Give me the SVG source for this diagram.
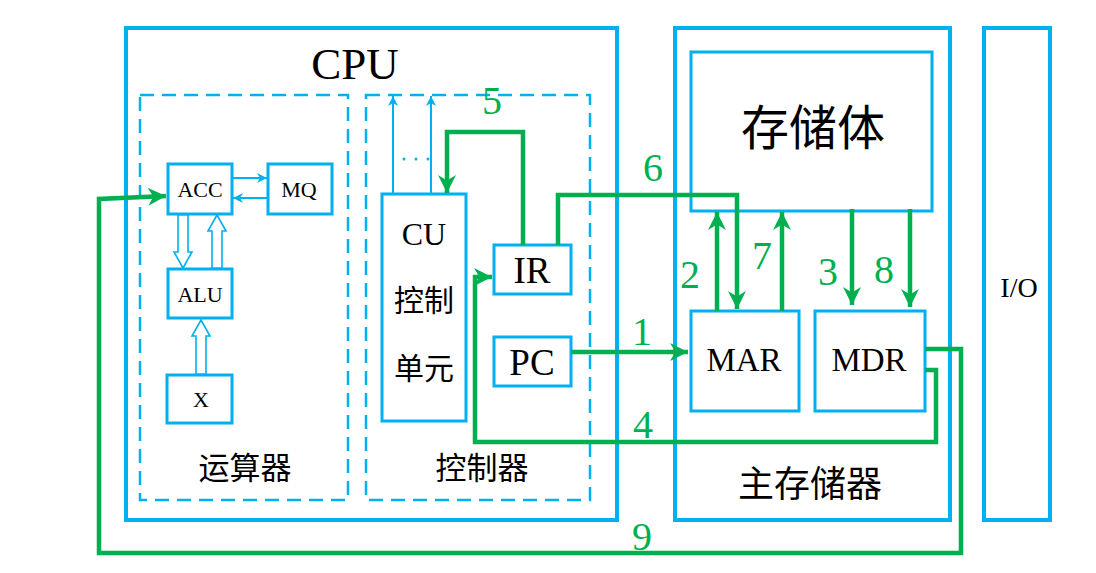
<svg xmlns="http://www.w3.org/2000/svg" width="1096" height="573" viewBox="0 0 1096 573">
<style>
.box{fill:none;stroke:#00B0F0;stroke-width:4}
.in{fill:#fff;stroke:#00B0F0;stroke-width:3}
.dash{fill:none;stroke:#00B0F0;stroke-width:2.5;stroke-dasharray:14 8}
.g{fill:none;stroke:#00B050;stroke-width:4.5;stroke-linejoin:miter}
.b{fill:none;stroke:#00B0F0;stroke-width:2}
.hol{fill:#fff;stroke:#00B0F0;stroke-width:1.6}
.t{font-family:"Liberation Serif","Noto Sans CJK SC",serif;fill:#000;text-anchor:middle}
.n{font-family:"Liberation Serif",serif;fill:#00B050;text-anchor:middle;font-size:40px}
</style>
<defs>
<marker id="ga" viewBox="0 0 10 10" refX="10" refY="5" markerWidth="4" markerHeight="4" orient="auto" markerUnits="strokeWidth"><path d="M0,0 L10,5 L0,10 L3,5 z" fill="#00B050"/></marker>
<marker id="ba" viewBox="0 0 10 10" refX="10" refY="5" markerWidth="5" markerHeight="5" orient="auto" markerUnits="strokeWidth"><path d="M0,0 L10,5 L0,10 L3,5 z" fill="#00B0F0"/></marker>
</defs>
<rect width="1096" height="573" fill="#fff"/>
<g id="cpu"><rect class="box" x="126" y="28" width="491" height="492"/><text class="t" x="355" y="79" font-size="45">CPU</text></g>
<g id="alu-unit"><rect class="dash" x="140" y="95" width="208" height="405"/><text class="t" x="245" y="479" font-size="31">运算器</text></g>
<g id="cu-unit"><rect class="dash" x="366" y="95" width="224" height="405"/><text class="t" x="482" y="479" font-size="31">控制器</text></g>
<g id="mem"><rect class="box" x="675" y="28" width="275" height="492"/><text class="t" x="810" y="497" font-size="36">主存储器</text></g>
<g id="io"><rect class="box" x="984" y="28" width="66" height="492"/><text class="t" x="1019" y="297" font-size="28">I/O</text></g>
<g id="storage"><rect class="in" x="691" y="52" width="241" height="159"/><text class="t" x="813" y="145" font-size="48">存储体</text></g>
<g id="acc"><rect class="in" x="168" y="164" width="64" height="50"/><text class="t" x="200" y="197" font-size="22">ACC</text></g>
<g id="mq"><rect class="in" x="268" y="164" width="64" height="50"/><text class="t" x="299" y="197" font-size="22">MQ</text></g>
<g id="alu"><rect class="in" x="168" y="269" width="64" height="49"/><text class="t" x="200" y="302" font-size="22">ALU</text></g>
<g id="x"><rect class="in" x="167" y="375" width="65" height="48"/><text class="t" x="201" y="407" font-size="22">X</text></g>
<g id="cu"><rect class="in" x="382" y="194" width="84" height="227"/><text class="t" x="424" y="245" font-size="32">CU</text><text class="t" x="424" y="311" font-size="30">控制</text><text class="t" x="424" y="379" font-size="30">单元</text></g>
<g id="ir"><rect class="in" x="494" y="245" width="77" height="49"/><text class="t" x="532" y="283" font-size="37">IR</text></g>
<g id="pc"><rect class="in" x="494" y="337" width="77" height="49"/><text class="t" x="532" y="375" font-size="37">PC</text></g>
<g id="mar"><rect class="in" x="691" y="311" width="108" height="100"/><text class="t" x="744" y="371" font-size="33">MAR</text></g>
<g id="mdr"><rect class="in" x="815" y="311" width="110" height="100"/><text class="t" x="869" y="371" font-size="33">MDR</text></g>
<g id="connectors">
<line class="b" x1="232" y1="178" x2="267" y2="178" marker-end="url(#ba)"/>
<line class="b" x1="268" y1="198" x2="233" y2="198" marker-end="url(#ba)"/>
<polygon class="hol" points="178,215 188,215 188,252 192,252 183,268 174,252 178,252"/>
<polygon class="hol" points="212,268 222,268 222,231 226,231 217,215 208,231 212,231"/>
<polygon class="hol" points="196,374 206,374 206,336 210,336 201,320 192,336 196,336"/>
<line class="b" x1="393" y1="194" x2="393" y2="96" marker-end="url(#ba)"/>
<line class="b" x1="431" y1="194" x2="431" y2="96" marker-end="url(#ba)"/>
<circle cx="404" cy="159" r="1.5" fill="#00B0F0"/>
<circle cx="416" cy="159" r="1.5" fill="#00B0F0"/>
<circle cx="428" cy="159" r="1.5" fill="#00B0F0"/>
<path class="g" d="M523,245 V132 H447 V193" marker-end="url(#ga)"/>
<path class="g" d="M558,245 V195 H737 V309" marker-end="url(#ga)"/>
<path class="g" d="M571,352 H688" marker-end="url(#ga)"/>
<path class="g" d="M717,311 V212" marker-end="url(#ga)"/>
<path class="g" d="M782,311 V212" marker-end="url(#ga)"/>
<path class="g" d="M852,209 V305" marker-end="url(#ga)"/>
<path class="g" d="M910,209 V307" marker-end="url(#ga)"/>
<path class="g" d="M925,370 H936 V442 H475 V277 H492" marker-end="url(#ga)"/>
<path class="g" d="M925,349 H961 V553 H99 V199 L166,196" marker-end="url(#ga)"/>
<text class="n" x="492" y="114">5</text>
<text class="n" x="653" y="181">6</text>
<text class="n" x="690" y="288">2</text>
<text class="n" x="762" y="269">7</text>
<text class="n" x="828" y="285">3</text>
<text class="n" x="884" y="283">8</text>
<text class="n" x="642" y="345">1</text>
<text class="n" x="643" y="438">4</text>
<text class="n" x="642" y="550">9</text>
</g>
</svg>
